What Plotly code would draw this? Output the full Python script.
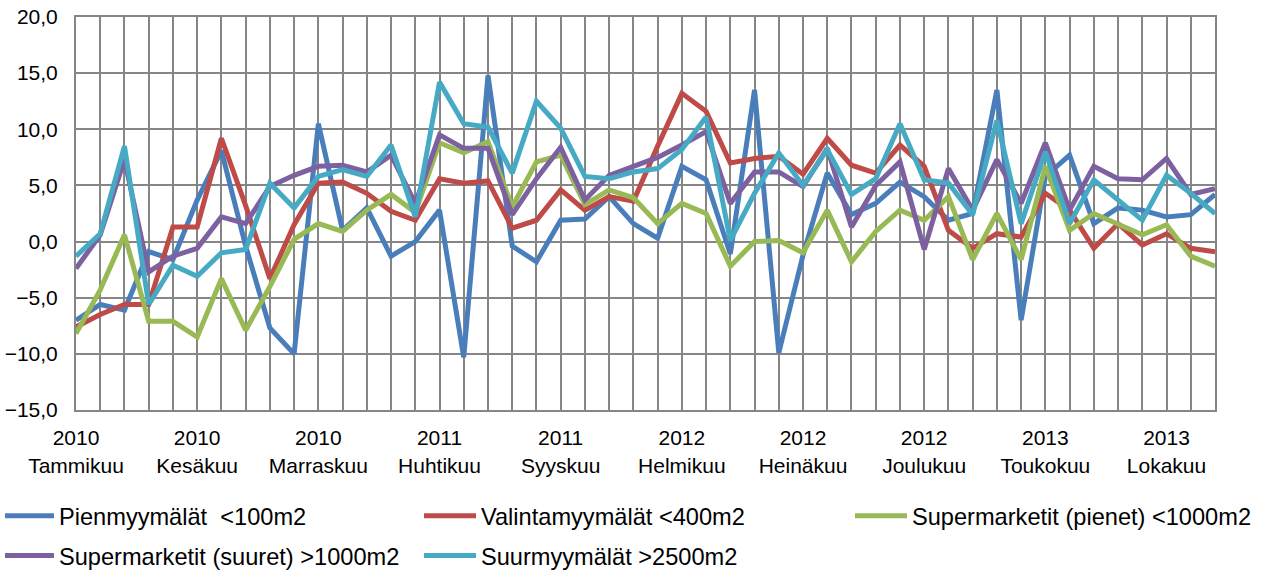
import plotly.graph_objects as go

months_fi = ["Tammikuu", "Helmikuu", "Maaliskuu", "Huhtikuu", "Toukokuu", "Kesäkuu",
             "Heinäkuu", "Elokuu", "Syyskuu", "Lokakuu", "Marraskuu", "Joulukuu"]
years = [2010, 2011, 2012, 2013]
categories = [f"{y}<br>{m}" for y in years for m in months_fi]

pienmyymalat = [-7.0, -5.6, -6.1, -0.9, -1.6, 3.7, 8.1, -0.4, -7.7, -10.0, 10.5, 1.0,
                3.0, -1.3, 0.0, 2.8, -10.3, 14.8, -0.4, -1.8, 1.9, 2.0, 4.0, 1.6,
                0.3, 6.7, 5.5, -1.1, 13.5, -9.9, -1.2, 6.1, 2.4, 3.4, 5.3, 4.0,
                1.9, 2.5, 13.5, -7.0, 5.8, 7.7, 1.6, 3.0, 2.8, 2.2, 2.4, 4.2]
valintamyymalat = [-7.6, -6.5, -5.6, -5.6, 1.3, 1.3, 9.2, 3.2, -3.3, 1.5, 5.2, 5.3,
                   4.3, 2.7, 1.9, 5.6, 5.2, 5.4, 1.2, 1.9, 4.6, 2.8, 4.0, 3.6,
                   8.5, 13.2, 11.6, 7.0, 7.4, 7.6, 6.0, 9.2, 6.8, 6.1, 8.6, 6.7,
                   1.0, -0.6, 0.7, 0.4, 4.3, 2.8, -0.6, 1.6, -0.3, 0.7, -0.6, -0.9]
super_pienet = [-8.2, -4.3, 0.6, -7.1, -7.1, -8.5, -3.3, -7.9, -4.0, 0.2, 1.6, 0.9,
                2.8, 4.2, 2.6, 8.8, 7.9, 8.9, 3.1, 7.1, 7.7, 3.3, 4.6, 3.9,
                1.6, 3.4, 2.5, -2.2, 0.0, 0.1, -1.0, 2.8, -1.8, 0.9, 2.8, 1.9,
                4.0, -1.6, 2.5, -1.6, 6.7, 1.0, 2.5, 1.6, 0.6, 1.5, -1.3, -2.2]
super_suuret = [-2.4, 0.6, 7.3, -2.7, -1.3, -0.6, 2.2, 1.6, 4.9, 5.9, 6.7, 6.8,
                6.2, 7.7, 3.4, 9.5, 8.3, 8.3, 2.4, 5.6, 8.4, 3.7, 5.9, 6.7,
                7.5, 8.6, 9.8, 3.4, 6.2, 6.2, 4.9, 8.3, 1.3, 5.0, 7.1, -0.7,
                6.5, 2.8, 7.3, 3.4, 8.8, 2.8, 6.7, 5.6, 5.5, 7.4, 4.2, 4.7]
suurmyymalat = [-1.3, 0.7, 8.5, -5.6, -2.1, -3.1, -1.0, -0.7, 5.2, 3.0, 5.8, 6.4,
                5.8, 8.6, 2.2, 14.2, 10.5, 10.2, 6.1, 12.5, 10.1, 5.8, 5.6, 6.2,
                6.5, 8.2, 11.1, 0.1, 4.3, 7.9, 5.0, 8.2, 4.2, 5.6, 10.5, 5.5,
                5.2, 2.4, 10.8, 1.6, 8.0, 1.6, 5.5, 3.7, 1.9, 5.9, 4.3, 2.5]

# (name, values, colour, legend column)
series = [
    ("Pienmyymälät  <100m2", pienmyymalat, "#4A7EBB", "legend"),
    ("Valintamyymälät <400m2", valintamyymalat, "#BE4B48", "legend2"),
    ("Supermarketit (pienet) <1000m2", super_pienet, "#98B954", "legend3"),
    ("Supermarketit (suuret) >1000m2", super_suuret, "#7D60A0", "legend"),
    ("Suurmyymälät >2500m2", suurmyymalat, "#46AAC5", "legend2"),
]

x_idx = list(range(len(categories)))
tick_idx = x_idx[::5]
tick_text = [categories[i] for i in tick_idx]

fig = go.Figure()
for k, (name, vals, col, leg) in enumerate(series):
    fig.add_trace(go.Scatter(x=x_idx, y=vals, name=name, mode="lines",
                             line=dict(color=col, width=5), legend=leg,
                             legendgroup=f"g{k}"))

W, H = 1263, 574
ML, MR, MT, MB = 76, 48, 17, 164
pw, ph = W - ML - MR, H - MT - MB


def px_x(p):
    return (p - ML) / pw


def px_y(p):
    return (H - MB - p) / ph


leg_font = dict(size=23.6, family="Liberation Sans, Arial, sans-serif", color="black")
leg_common = dict(orientation="v", xanchor="left", yanchor="top",
                  tracegroupgap=6, bgcolor="rgba(0,0,0,0)", font=leg_font,
                  y=px_y(494))

grid = "#868686"
fig.update_layout(
    width=W, height=H,
    margin=dict(l=ML, r=MR, t=MT, b=MB, autoexpand=False),
    paper_bgcolor="white", plot_bgcolor="white",
    separators=", ",
    font=dict(family="Liberation Sans, Arial, sans-serif", size=21, color="black"),
    showlegend=True,
    legend=dict(x=px_x(0), itemwidth=49, **leg_common),
    legend2=dict(x=px_x(419), itemwidth=52, **leg_common),
    legend3=dict(x=px_x(850), itemwidth=52, **leg_common),
    xaxis=dict(range=[0, len(categories) - 1], tickmode="array", tickvals=tick_idx,
               ticktext=tick_text, showgrid=True, gridcolor=grid, gridwidth=2,
               minor=dict(dtick=1, tick0=0, showgrid=True, gridcolor=grid, gridwidth=2),
               showline=True, linecolor=grid, linewidth=2, mirror=True,
               ticks="outside", ticklen=8, tickcolor="rgba(0,0,0,0)",
               ticklabeloverflow="allow",
               zeroline=False, automargin=False, tickfont=dict(size=21)),
    yaxis=dict(range=[-15, 20], dtick=5, tick0=0, tickformat=".1f",
               showgrid=True, gridcolor=grid, gridwidth=2,
               showline=True, linecolor=grid, linewidth=2, mirror=True,
               zeroline=False, ticks="outside", ticklen=12, tickcolor="rgba(0,0,0,0)",
               ticklabeloverflow="allow",
               automargin=False, tickfont=dict(size=21)),
)

fig.write_html("out.html",
               config={"displayModeBar": False},
               post_script="document.body.style.margin='0';document.body.style.overflow='hidden';")
